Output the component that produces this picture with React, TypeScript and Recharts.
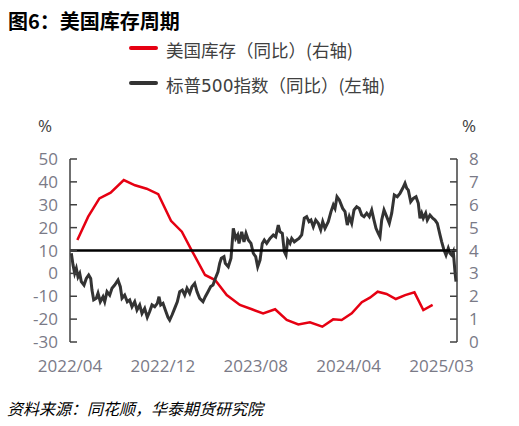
// 图6：美国库存周期 — S&P 500 YoY vs US inventory YoY
import React from 'react';
import { ComposedChart, Line, XAxis, YAxis, ReferenceLine } from 'recharts';

// x position is a trading-day index scaled to 0..100
const xTicks = [0, 24, 48, 72, 96];
const xLabels = ['2022/04', '2022/12', '2023/08', '2024/04', '2025/03'];

const leftTicks = [-30, -20, -10, 0, 10, 20, 30, 40, 50];
const rightTicks = [0, 1, 2, 3, 4, 5, 6, 7, 8];

// 标普500指数（同比）, left axis
const spxT = [
  0.34, 0.78, 1.21, 1.63, 2.07, 2.51, 2.92, 3.62, 4.21, 4.83, 5.35, 5.68, 6.12, 6.8, 7.24, 7.83,
  8.53, 8.97, 9.56, 10.26, 10.85, 11.55, 12.4, 13.0, 13.44, 14.13, 14.81, 15.43, 16.02, 16.72,
  17.31, 18.01, 18.6, 19.3, 19.97, 20.59, 21.19, 21.89, 22.56, 23.0, 23.44, 24.03, 24.63, 25.32,
  25.76, 26.36, 27.05, 27.73, 28.35, 29.02, 29.64, 30.23, 30.93, 31.52, 32.22, 32.82, 33.51, 34.37,
  34.96, 35.66, 36.36, 36.95, 37.55, 38.24, 38.68, 39.1, 39.79, 40.13, 40.9, 41.6, 42.2, 42.82,
  43.33, 43.67, 44.37, 44.96, 45.48, 46.07, 46.77, 47.36, 47.98, 48.5, 49.1, 49.69, 50.21, 50.83,
  51.68, 52.53, 53.15, 53.82, 54.26, 54.86, 55.37, 55.81, 56.25, 56.85, 57.29, 57.96, 58.58, 59.17,
  59.87, 60.54, 61.16, 61.76, 62.27, 62.87, 63.49, 64.16, 64.78, 65.3, 65.89, 66.74, 67.44, 68.04,
  68.48, 68.99, 69.59, 70.46, 71.06, 71.65, 72.17, 72.79, 73.39, 74.08, 74.75, 75.37, 75.97, 76.67,
  77.34, 77.96, 78.55, 79.07, 79.66, 80.1, 80.54, 81.14, 81.83, 82.51, 83.13, 83.8, 84.57, 85.27,
  85.97, 86.56, 87.0, 87.42, 88.04, 88.71, 89.41, 90.0, 90.44, 90.88, 91.29, 91.91, 92.33, 93.02,
  93.72, 94.32, 94.91, 95.61, 96.05, 96.64, 97.16, 97.75, 98.19, 98.63, 99.04, 99.48, 99.74,
];
const spxVals = [
  8.8, 3.7, 0, 2.2, -1.5, 0, -3.6, -5.1, -2.2, -0.7, -2.2, -7.3, -11.6, -10.9, -8.7, -12.4,
  -10.2, -12.4, -8, -9.5, -6.5, -5.1, -2.9, -5.8, -10.9, -9.5, -12.4, -11.6, -14.6, -12.4,
  -16, -13.8, -17.5, -15.3, -19.2, -16.7, -13.8, -14.6, -13.1, -10.2, -13.8, -13.1, -16, -19.2,
  -20.4, -18.2, -15.3, -12.4, -8, -7.3, -9.5, -6.5, -8.7, -5.8, -4.4, -8, -10.9, -12.4,
  -10.2, -8, -5.8, -5.1, -2.2, 0.7, 4.4, 6.6, 7.3, 4.4, 2.9, 6.6, 19.7, 15.3,
  16.8, 13.1, 18.2, 13.8, 17.5, 14.6, 13.1, 8.8, 7.3, 2.9, 5.8, 13.1, 14.6, 13.1,
  15.3, 16.8, 16, 21.1, 18.2, 17.5, 9.5, 8, 14.6, 13.1, 15.3, 13.8, 14.6, 15.3,
  16.8, 24.1, 24.8, 22.6, 23.3, 20.4, 23.3, 21.9, 19, 22.6, 19.7, 22.6, 27, 29.9,
  28.4, 33.5, 32.1, 28.4, 27, 21.1, 24.8, 21.9, 27.7, 29.1, 28.4, 25.5, 24.8, 26.3,
  24.8, 27.7, 23.3, 19.7, 17.5, 16, 23.3, 27.7, 24.8, 21.9, 26.3, 34.3, 33.5, 35,
  37.2, 39.4, 37.2, 36.4, 31.3, 32.8, 33.5, 30.6, 24.1, 26.3, 24.1, 26.3, 23.3, 25.5,
  24.1, 23.3, 21.9, 16.8, 13.8, 10.2, 8, 11, 8.8, 8, 9.5, 0.7, -3.6,
];

// 美国库存（同比）, right axis
const invT = [
  1.9, 4.7, 7.6, 10.5, 13.9, 16.8, 19.8, 22.8, 26.1, 28.9, 31.4, 34.9, 37.5, 40.5, 43.9, 47.0,
  49.9, 53.0, 56.0, 59.0, 62.0, 65.2, 68.0, 70.2, 72.8, 75.4, 77.5, 79.5, 81.8, 84.2, 86.6,
  89.0, 91.3, 93.7,
];
const invVals = [
  4.46, 5.48, 6.28, 6.53, 7.08, 6.85, 6.7, 6.46, 5.3, 4.82, 4.02, 2.93, 2.71, 2.05, 1.62, 1.43,
  1.25, 1.43, 0.96, 0.77, 0.86, 0.67, 0.99, 0.96, 1.25, 1.74, 1.94, 2.2, 2.1, 1.88, 2.05,
  2.17, 1.4, 1.62,
];

const rows: Array<{ t: number; spx?: number; inv?: number }> = [
  ...spxT.map((t, i) => ({ t, spx: spxVals[i] })),
  ...invT.map((t, i) => ({ t, inv: invVals[i] })),
].sort((a, b) => a.t - b.t);

const CJK = '"Noto Sans CJK SC", "Noto Sans", sans-serif';
const NUM = '"Open Sans", "Noto Sans", sans-serif';
const TICK_COLOR = '#7a7a87';
const AXIS_COLOR = '#404040';
const RED = '#e60012';
const DARK = '#333333';

const LeftTick = ({ x, y, payload }: any) => (
  <g>
    <line x1={x} y1={y} x2={x + 7} y2={y} stroke={AXIS_COLOR} strokeWidth={1.5} />
    <text x={x - 12} y={y} dy="0.36em" textAnchor="end" fontSize={17} fontFamily={NUM} fill={TICK_COLOR}>
      {payload.value}
    </text>
  </g>
);

const RightTick = ({ x, y, payload }: any) => (
  <g>
    <line x1={x} y1={y} x2={x - 7} y2={y} stroke={AXIS_COLOR} strokeWidth={1.5} />
    <text x={x + 12} y={y} dy="0.36em" textAnchor="start" fontSize={17} fontFamily={NUM} fill={TICK_COLOR}>
      {payload.value}
    </text>
  </g>
);

export default function App() {
  return (
    <div style={{ position: 'absolute', left: 0, top: 0, width: 519, height: 426, background: '#fff' }}>
      <ComposedChart width={519} height={426} data={rows} margin={{ top: 159, right: 8, left: 8, bottom: 54 }}>
        <XAxis
          dataKey="t"
          type="number"
          domain={[0, 100]}
          ticks={xTicks}
          tickFormatter={(v: number) => xLabels[xTicks.indexOf(v)] ?? ''}
          axisLine={false}
          tickLine={false}
          tickMargin={12}
          height={30}
          interval={0}
          tick={{ fontSize: 17, fontFamily: NUM, fill: TICK_COLOR }}
        />
        <YAxis
          yAxisId="left"
          orientation="left"
          domain={[-30, 50]}
          ticks={leftTicks}
          width={62}
          tickSize={0}
          tickMargin={0}
          tickLine={false}
          interval={0}
          axisLine={{ stroke: AXIS_COLOR, strokeWidth: 1.5 }}
          tick={<LeftTick />}
        />
        <YAxis
          yAxisId="right"
          orientation="right"
          domain={[0, 8]}
          ticks={rightTicks}
          width={54}
          tickSize={0}
          tickMargin={0}
          tickLine={false}
          interval={0}
          axisLine={{ stroke: AXIS_COLOR, strokeWidth: 1.5 }}
          tick={<RightTick />}
        />
        <Line
          yAxisId="right"
          dataKey="inv"
          stroke={RED}
          strokeWidth={2.5}
          dot={false}
          connectNulls
          isAnimationActive={false}
        />
        <Line
          yAxisId="left"
          dataKey="spx"
          stroke={DARK}
          strokeWidth={3}
          dot={false}
          connectNulls
          isAnimationActive={false}
        />
        <ReferenceLine yAxisId="left" y={10} stroke="#000" strokeWidth={2.5} />
      </ComposedChart>

      <div style={{ position: 'absolute', left: 8, top: 6, fontFamily: CJK, fontSize: 20, fontWeight: 700, color: '#000', whiteSpace: 'nowrap' }}>
        图6：美国库存周期
      </div>

      <div style={{ position: 'absolute', left: 129, top: 45.5, width: 29, height: 4, borderRadius: 2, background: RED }} />
      <div style={{ position: 'absolute', left: 166, top: 37, fontFamily: CJK, fontSize: 17.5, color: '#404040', whiteSpace: 'nowrap' }}>
        美国库存（同比）(右轴)
      </div>
      <div style={{ position: 'absolute', left: 129, top: 81, width: 29, height: 4, borderRadius: 2, background: DARK }} />
      <div style={{ position: 'absolute', left: 166, top: 72, fontFamily: CJK, fontSize: 17.5, color: '#404040', whiteSpace: 'nowrap' }}>
        标普<span style={{ fontFamily: '"DejaVu Sans", sans-serif', fontSize: 17 }}>500</span>指数（同比）(左轴)
      </div>

      <div style={{ position: 'absolute', left: 38, top: 114, fontFamily: NUM, fontSize: 17, color: '#404040' }}>%</div>
      <div style={{ position: 'absolute', left: 462, top: 114, fontFamily: NUM, fontSize: 17, color: '#404040' }}>%</div>

      <div style={{ position: 'absolute', left: 7, top: 396, fontFamily: CJK, fontSize: 16, fontStyle: 'italic', color: '#000', whiteSpace: 'nowrap' }}>
        资料来源：同花顺，华泰期货研究院
      </div>
    </div>
  );
}
